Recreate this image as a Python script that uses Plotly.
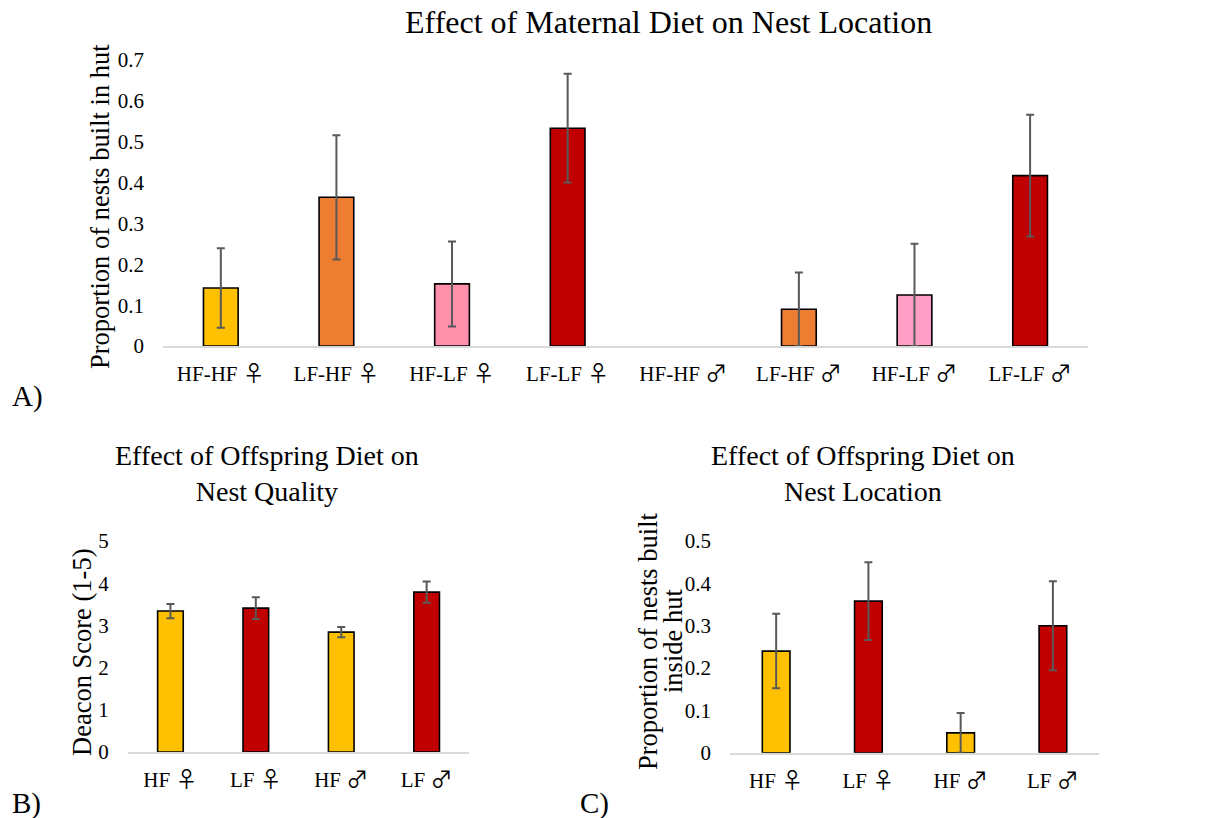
import numpy as np
import plotly.graph_objects as go

# Panel A: maternal diet x offspring diet, by sex
a_groups = ["HF-HF ♀", "LF-HF ♀", "HF-LF ♀", "LF-LF ♀",
            "HF-HF ♂", "LF-HF ♂", "HF-LF ♂", "LF-LF ♂"]
a_values = [0.142, 0.364, 0.152, 0.533, 0.0, 0.090, 0.125, 0.417]
a_errors = [0.097, 0.152, 0.104, 0.133, np.nan, 0.090, 0.125, 0.149]
a_colors = ["#FFC000", "#ED7D31", "#FF8FAB", "#C00000",
            "#FFC000", "#ED7D31", "#FF9FC5", "#C00000"]

# Panel B: offspring diet and nest quality
b_groups = ["HF ♀", "LF ♀", "HF ♂", "LF ♂"]
b_values = [3.34, 3.41, 2.84, 3.79]
b_errors = [0.17, 0.26, 0.12, 0.25]

# Panel C: offspring diet and nest location
c_groups = ["HF ♀", "LF ♀", "HF ♂", "LF ♂"]
c_values = [0.240, 0.358, 0.047, 0.300]
c_errors = [0.088, 0.092, 0.047, 0.105]

bc_colors = ["#FFC000", "#C00000", "#FFC000", "#C00000"]

FONT = "Liberation Serif, Times New Roman, serif"
SYM_STYLE = "font-family:Noto Sans CJK JP;font-size:22px"
ERR = dict(type="data", visible=True, color="#595959", thickness=2, width=4)


def label(text):
    # render the sex symbol in a font that carries the glyph at full size
    out = text
    for s in ("♀", "♂"):
        out = out.replace(s, f'<span style="{SYM_STYLE}">{s}</span>')
    return out


fig = go.Figure()


def add_bars(x, y, err, colors, xa, ya):
    fig.add_trace(go.Bar(
        x=x, y=y, xaxis=xa, yaxis=ya,
        marker=dict(color=colors,
                    line=dict(color="#000000",
                              width=[1.6 if v > 0 else 0 for v in y])),
        error_y=dict(array=np.array(err, dtype=float), **ERR),
        showlegend=False,
    ))


add_bars(a_groups, a_values, a_errors, a_colors, "x", "y")
add_bars(b_groups, b_values, b_errors, bc_colors, "x2", "y2")
add_bars(c_groups, c_values, c_errors, bc_colors, "x3", "y3")


def xaxis(domain, anchor, groups):
    return dict(domain=domain, anchor=anchor, automargin=False,
                showline=True, linecolor="#D9D9D9", linewidth=2, ticks="",
                showgrid=False, zeroline=False, ticklabelstandoff=8,
                tickvals=groups, ticktext=[label(g) for g in groups],
                tickfont=dict(family=FONT, size=21, color="#000000"))


def yaxis(domain, anchor, rng, vals, texts):
    return dict(domain=domain, anchor=anchor, range=rng, automargin=False,
                showline=False, showgrid=False, zeroline=False, ticks="",
                tickvals=vals, ticktext=texts, ticklabelstandoff=18,
                tickfont=dict(family=FONT, size=21, color="#000000"))


a_ticks = [0, 0.1, 0.2, 0.3, 0.4, 0.5, 0.6, 0.7]
b_ticks = [0, 1, 2, 3, 4, 5]
c_ticks = [0, 0.1, 0.2, 0.3, 0.4, 0.5]

fig.update_layout(
    width=1221, height=818,
    margin=dict(l=0, r=0, t=0, b=0, autoexpand=False),
    paper_bgcolor="white", plot_bgcolor="white",
    font=dict(family=FONT, color="#000000"),
    bargap=0.7,
    xaxis=xaxis([0.1335, 0.891], "y", a_groups),
    yaxis=yaxis([0.577, 0.9267], "x", [0, 0.7], a_ticks,
                [f"{v:g}" for v in a_ticks]),
    xaxis2=xaxis([0.1046, 0.3844], "y2", b_groups),
    yaxis2=yaxis([0.0807, 0.3386], "x2", [0, 5], b_ticks,
                 [str(v) for v in b_ticks]),
    xaxis3=xaxis([0.5979, 0.9001], "y3", c_groups),
    yaxis3=yaxis([0.0798, 0.3386], "x3", [0, 0.5], c_ticks,
                 [f"{v:g}" for v in c_ticks]),
)

# chart titles
titles = [
    ("Effect of Maternal Diet on Nest Location", 668, 22, 32),
    ("Effect of Offspring Diet on<br>Nest Quality", 267, 473, 28),
    ("Effect of Offspring Diet on<br>Nest Location", 863, 473, 28),
]
for text, px, py, size in titles:
    fig.add_annotation(text=text, x=px / 1221, y=1 - py / 818,
                       xref="paper", yref="paper", showarrow=False,
                       xanchor="center", yanchor="middle",
                       font=dict(family=FONT, size=size, color="#000000"))

# vertical axis titles (one annotation per line)
ytitles = [
    ("Proportion of nests built in hut", 100, 207),
    ("Deacon Score (1-5)", 82, 653),
    ("Proportion of nests built", 648, 641),
    ("inside hut", 673, 641),
]
for text, px, py in ytitles:
    fig.add_annotation(text=text, x=px / 1221, y=1 - py / 818,
                       xref="paper", yref="paper", showarrow=False,
                       textangle=-90, xanchor="center", yanchor="middle",
                       font=dict(family=FONT, size=26.5, color="#000000"))

# panel letters
panels = [("A)", 10, 396), ("B)", 10, 803), ("C)", 578, 803)]
for text, px, py in panels:
    fig.add_annotation(text=text, x=px / 1221, y=1 - py / 818,
                       xref="paper", yref="paper", showarrow=False,
                       xanchor="left", yanchor="middle",
                       font=dict(family=FONT, size=29, color="#000000"))

fig.write_html("out.html")
